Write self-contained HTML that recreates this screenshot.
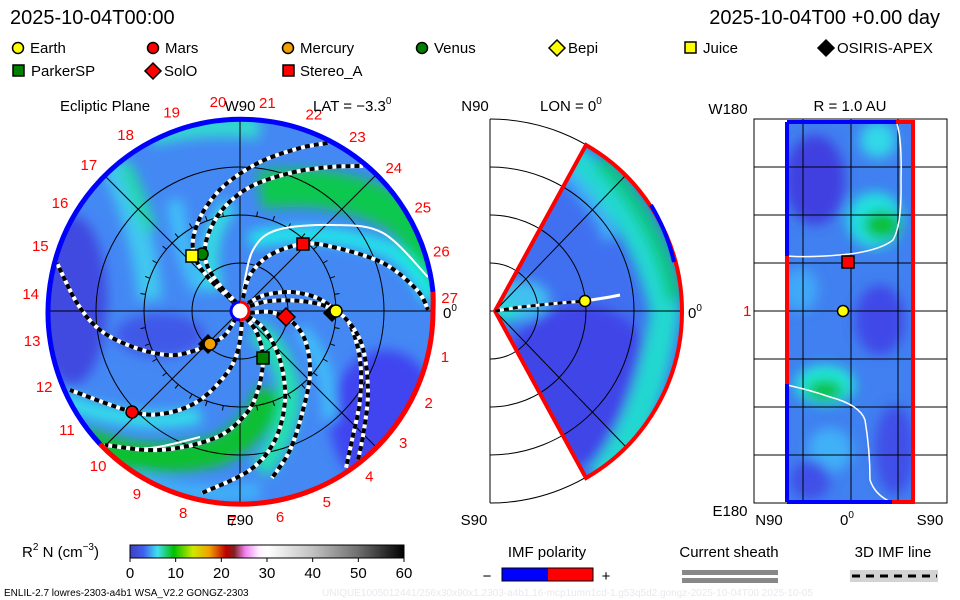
<!DOCTYPE html>
<html><head><meta charset="utf-8">
<style>
html,body{margin:0;padding:0;background:#fff;}
svg{display:block;font-family:"Liberation Sans",sans-serif;}
</style></head>
<body>
<svg id="root" width="960" height="600" viewBox="0 0 960 600" xmlns="http://www.w3.org/2000/svg">
<defs>
  <clipPath id="clipL"><circle cx="240" cy="311" r="193"/></clipPath>
  <clipPath id="clipM"><path d="M495,311 L586,145 A192,192 0 0 1 682,311 A192,192 0 0 1 586,478 Z"/></clipPath>
  <clipPath id="clipR"><rect x="785" y="122" width="130" height="380"/></clipPath>
  <filter id="blur6"><feGaussianBlur stdDeviation="6"/></filter>
  <linearGradient id="cbar" x1="0" x2="1" y1="0" y2="0">
    <stop offset="0" stop-color="#4040c0"/>
    <stop offset="0.05" stop-color="#4060f0"/>
    <stop offset="0.1" stop-color="#40e0f0"/>
    <stop offset="0.16" stop-color="#00c000"/>
    <stop offset="0.23" stop-color="#d0e800"/>
    <stop offset="0.29" stop-color="#f0a000"/>
    <stop offset="0.35" stop-color="#c00000"/>
    <stop offset="0.38" stop-color="#802020"/>
    <stop offset="0.42" stop-color="#f080f0"/>
    <stop offset="0.47" stop-color="#fff0ff"/>
    <stop offset="0.5" stop-color="#ffffff"/>
    <stop offset="0.67" stop-color="#c0c0c0"/>
    <stop offset="0.83" stop-color="#707070"/>
    <stop offset="1" stop-color="#000000"/>
  </linearGradient>
</defs>

<text x="10" y="24" font-size="20">2025-10-04T00:00</text>
<text x="940" y="24" font-size="20" text-anchor="end">2025-10-04T00 +0.00 day</text>

<g font-size="15">
  <g><circle cx="18" cy="48" r="5.5" fill="#ffff00" stroke="#000" stroke-width="1.5"/><text x="30" y="53">Earth</text></g>
  <g><circle cx="153" cy="48" r="5.5" fill="#ff0000" stroke="#000" stroke-width="1.5"/><text x="165" y="53">Mars</text></g>
  <g><circle cx="288" cy="48" r="5.5" fill="#f0a000" stroke="#000" stroke-width="1.5"/><text x="300" y="53">Mercury</text></g>
  <g><circle cx="422" cy="48" r="5.5" fill="#008000" stroke="#000" stroke-width="1.5"/><text x="434" y="53">Venus</text></g>
  <g><path d="M557,40 L565,48 L557,56 L549,48Z" fill="#ffff00" stroke="#000" stroke-width="1.5"/><text x="568" y="53">Bepi</text></g>
  <g><rect x="685" y="42" width="11" height="11" fill="#ffff00" stroke="#000" stroke-width="1.5"/><text x="703" y="53">Juice</text></g>
  <g><path d="M826,40 L834,48 L826,56 L818,48Z" fill="#000" stroke="#000" stroke-width="1.5"/><text x="837" y="53">OSIRIS-APEX</text></g>
  <g><rect x="13" y="65" width="11" height="11" fill="#008000" stroke="#000" stroke-width="1.5"/><text x="31" y="76">ParkerSP</text></g>
  <g><path d="M153,63 L161,71 L153,79 L145,71Z" fill="#ff0000" stroke="#000" stroke-width="1.5"/><text x="164" y="76">SolO</text></g>
  <g><rect x="283" y="65" width="11" height="11" fill="#ff0000" stroke="#000" stroke-width="1.5"/><text x="300" y="76">Stereo_A</text></g>
</g>

<!-- LEFT PANEL -->
<g id="leftPanel">
  <g clip-path="url(#clipL)">
    <circle cx="240" cy="311" r="193" fill="#4488f4"/>
    <g filter="url(#blur6)">
      <ellipse cx="72" cy="300" rx="35" ry="85" fill="#4048e0"/>
      <ellipse cx="385" cy="420" rx="55" ry="70" fill="#4044f0"/>
      <ellipse cx="160" cy="335" rx="45" ry="22" fill="#4058e8"/>
      <path d="M110,160 Q145,230 150,300" stroke="#40c8f0" stroke-width="24" fill="none"/>
      <path d="M125,165 Q140,200 150,230" stroke="#20d8a8" stroke-width="14" fill="none"/>
      <path d="M150,135 Q200,122 260,128" stroke="#30d8d0" stroke-width="22" fill="none"/>
      <path d="M175,200 Q180,250 200,290" stroke="#40c0f8" stroke-width="16" fill="none"/>
      <path d="M260,190 Q340,180 400,215 Q430,240 440,290" stroke="#10c850" stroke-width="38" fill="none"/>
      <path d="M250,240 Q320,225 390,250 Q420,270 430,300" stroke="#20e8e8" stroke-width="16" fill="none"/>
      <path d="M215,290 Q200,240 230,205" stroke="#30e0e0" stroke-width="16" fill="none"/>
      <path d="M80,440 Q150,470 220,450 Q260,430 270,390" stroke="#10c030" stroke-width="30" fill="none"/>
      <path d="M60,400 Q140,430 200,415" stroke="#30e0e8" stroke-width="16" fill="none"/>
      <path d="M255,330 Q285,350 290,400 Q285,440 260,470" stroke="#20e0b0" stroke-width="22" fill="none"/>
      <path d="M300,330 Q330,360 330,420" stroke="#40c0f8" stroke-width="14" fill="none"/>
      <path d="M130,480 Q200,500 260,490" stroke="#40b0f8" stroke-width="18" fill="none"/>
    </g>
  </g>
  <g stroke="#000" stroke-width="1" fill="none">
    <circle cx="240" cy="311" r="48"/>
    <circle cx="240" cy="311" r="96"/>
    <circle cx="240" cy="311" r="144"/>
    <line x1="47" y1="311" x2="433" y2="311"/>
    <line x1="240" y1="118" x2="240" y2="504"/>
    <line x1="104" y1="175" x2="376" y2="447"/>
    <line x1="104" y1="447" x2="376" y2="175"/>
  </g>
  <g id="ringTicks" stroke="#000" stroke-width="1"></g>
  <g id="leftSheath"></g>
  <g id="leftImf"></g>
  <path d="M433,311 A193,193 0 0 1 100,444" fill="none" stroke="#ff0000" stroke-width="5"/>
  <path d="M100,444 A193,193 0 1 1 433,292" fill="none" stroke="#0000ff" stroke-width="5"/>
  <path d="M433,292 A193,193 0 0 1 433,311" fill="none" stroke="#ff0000" stroke-width="5"/>
  <circle cx="240" cy="311" r="8" fill="#fff"/>
  <path d="M240,302 A9,9 0 0 1 240,320" fill="none" stroke="#ff0000" stroke-width="3"/>
  <path d="M240,320 A9,9 0 0 1 240,302" fill="none" stroke="#0000ff" stroke-width="3"/>
  <g stroke="#000" stroke-width="1.5">
    <path d="M332,305 L340,313 L332,321 L324,313Z" fill="#000"/>
    <circle cx="336" cy="311" r="6" fill="#ffff00"/>
    <circle cx="132" cy="412" r="6" fill="#ff0000"/>
    <path d="M208,335 L217,344 L208,353 L199,344Z" fill="#000"/>
    <circle cx="210" cy="344" r="6" fill="#f0a000"/>
    <circle cx="202" cy="254" r="6" fill="#008000"/>
    <rect x="186" y="250" width="12" height="12" fill="#ffff00"/>
    <rect x="257" y="352" width="12" height="12" fill="#008000"/>
    <path d="M286,308 L295,317 L286,326 L277,317Z" fill="#ff0000"/>
    <rect x="297" y="238" width="12" height="12" fill="#ff0000"/>
  </g>
  <g id="carrLabels" fill="#ff0000" font-size="15" text-anchor="middle"></g>
  <text x="60" y="111" font-size="15">Ecliptic Plane</text>
  <text x="240" y="111" font-size="15" text-anchor="middle">W90</text>
  <text x="313" y="111" font-size="15">LAT = −3.3<tspan font-size="10" dy="-7">0</tspan></text>
  <text x="240" y="525" font-size="15" text-anchor="middle">E90</text>
  <text x="443" y="318" font-size="15">0<tspan font-size="10" dy="-7">0</tspan></text>
</g>

<!-- MIDDLE PANEL -->
<g>
  <g clip-path="url(#clipM)">
    <rect x="490" y="140" width="200" height="345" fill="#4070f0"/>
    <g filter="url(#blur6)">
      <ellipse cx="580" cy="385" rx="80" ry="80" fill="#4044e8"/>
      <path d="M560,150 Q640,200 665,311 Q650,420 600,480" stroke="#20d8d0" stroke-width="30" fill="none"/>
      <path d="M600,160 Q660,220 675,300" stroke="#10c880" stroke-width="16" fill="none"/>
      <ellipse cx="520" cy="300" rx="30" ry="20" fill="#40c0f0"/>
      <ellipse cx="505" cy="312" rx="14" ry="10" fill="#20e0d0"/>
      <path d="M540,150 Q600,200 610,240" stroke="#40b0f8" stroke-width="14" fill="none"/>
    </g>
  </g>
  <g stroke="#000" stroke-width="1" fill="none">
    <line x1="490" y1="119" x2="490" y2="503"/>
    <path d="M490,263 A48,48 0 0 1 490,359"/>
    <path d="M490,215 A96,96 0 0 1 490,407"/>
    <path d="M490,167 A144,144 0 0 1 490,455"/>
    <path d="M490,119 A192,192 0 0 1 490,503"/>
    <line x1="490" y1="311" x2="682" y2="311"/>
    <line x1="495" y1="311" x2="626" y2="175"/>
    <line x1="495" y1="311" x2="626" y2="447"/>
  </g>
  <path d="M495,311 L586,145 A192,192 0 0 1 682,311 A192,192 0 0 1 586,478 Z" fill="none" stroke="#ff0000" stroke-width="4"/>
  <path d="M651,205 A192,192 0 0 1 674,262" fill="none" stroke="#0000ff" stroke-width="4"/>
  <path d="M495,311 L520,307 L560,303 L585,301 L610,297 L620,295" fill="none" stroke="#fff" stroke-width="3"/>
  <path d="M495,311 L520,307 L560,303 L585,301" fill="none" stroke="#000" stroke-width="3" stroke-dasharray="5,4"/>
  <circle cx="585" cy="301" r="5.5" fill="#ffff00" stroke="#000" stroke-width="1.5"/>
  <text x="475" y="111" font-size="15" text-anchor="middle">N90</text>
  <text x="540" y="111" font-size="15">LON = 0<tspan font-size="10" dy="-7">0</tspan></text>
  <text x="688" y="318" font-size="15">0<tspan font-size="10" dy="-7">0</tspan></text>
  <text x="474" y="525" font-size="15" text-anchor="middle">S90</text>
</g>

<!-- RIGHT PANEL -->
<g>
  <g clip-path="url(#clipR)">
    <rect x="785" y="122" width="130" height="380" fill="#4080f0"/>
    <g filter="url(#blur6)">
      <ellipse cx="815" cy="180" rx="30" ry="45" fill="#4040e0"/>
      <ellipse cx="878" cy="140" rx="18" ry="18" fill="#30d8e8"/>
      <ellipse cx="875" cy="220" rx="28" ry="28" fill="#20e0e0"/>
      <ellipse cx="882" cy="225" rx="18" ry="14" fill="#10c030"/>
      <ellipse cx="800" cy="290" rx="18" ry="22" fill="#40a8f8"/>
      <ellipse cx="880" cy="320" rx="25" ry="35" fill="#4048e8"/>
      <ellipse cx="825" cy="385" rx="30" ry="20" fill="#20e8d8"/>
      <ellipse cx="825" cy="390" rx="18" ry="10" fill="#10c030"/>
      <ellipse cx="830" cy="450" rx="22" ry="22" fill="#40b0f8"/>
      <ellipse cx="895" cy="450" rx="20" ry="45" fill="#4050e8"/>
      <ellipse cx="810" cy="480" rx="20" ry="20" fill="#4050e8"/>
    </g>
  </g>
  <g stroke="#000" stroke-width="1" fill="none">
    <rect x="754" y="119" width="193" height="384"/>
    <line x1="803" y1="119" x2="803" y2="503"/>
    <line x1="851" y1="119" x2="851" y2="503"/>
    <line x1="898" y1="119" x2="898" y2="503"/>
    <line x1="754" y1="167" x2="947" y2="167"/>
    <line x1="754" y1="215" x2="947" y2="215"/>
    <line x1="754" y1="263" x2="947" y2="263"/>
    <line x1="754" y1="311" x2="947" y2="311"/>
    <line x1="754" y1="359" x2="947" y2="359"/>
    <line x1="754" y1="407" x2="947" y2="407"/>
    <line x1="754" y1="455" x2="947" y2="455"/>
  </g>
  <path d="M897,124 Q902,140 901,180 Q902,225 893,240 Q880,250 850,254 Q810,258 787,256" fill="none" stroke="#fff" stroke-width="1.5"/>
  <path d="M787,385 Q810,390 830,397 Q860,405 865,420 Q870,450 870,480 Q875,495 891,502" fill="none" stroke="#fff" stroke-width="1.5"/>
  <g stroke-width="4" fill="none">
    <line x1="787" y1="122" x2="896" y2="122" stroke="#0000ff"/>
    <line x1="896" y1="122" x2="915" y2="122" stroke="#ff0000"/>
    <line x1="787" y1="502" x2="892" y2="502" stroke="#0000ff"/>
    <line x1="892" y1="502" x2="915" y2="502" stroke="#ff0000"/>
    <line x1="787" y1="122" x2="787" y2="256" stroke="#0000ff"/>
    <line x1="787" y1="256" x2="787" y2="384" stroke="#ff0000"/>
    <line x1="787" y1="384" x2="787" y2="502" stroke="#0000ff"/>
    <line x1="913" y1="122" x2="913" y2="502" stroke="#ff0000"/>
  </g>
  <rect x="842" y="256" width="12" height="12" fill="#ff0000" stroke="#000" stroke-width="1.5"/>
  <circle cx="843" cy="311" r="5.5" fill="#ffff00" stroke="#000" stroke-width="1.5"/>
  <text x="728" y="114" font-size="15" text-anchor="middle">W180</text>
  <text x="850" y="111" font-size="15" text-anchor="middle">R = 1.0 AU</text>
  <text x="730" y="516" font-size="15" text-anchor="middle">E180</text>
  <text x="769" y="525" font-size="15" text-anchor="middle">N90</text>
  <text x="847" y="525" font-size="15" text-anchor="middle">0<tspan font-size="10" dy="-7">0</tspan></text>
  <text x="930" y="525" font-size="15" text-anchor="middle">S90</text>
  <text x="743" y="316" font-size="15" fill="#ff0000">1</text>
</g>

<!-- BOTTOM LEGENDS -->
<g>
  <text x="22" y="557" font-size="15">R<tspan font-size="10" dy="-7">2</tspan><tspan dy="7"> N (cm</tspan><tspan font-size="10" dy="-7">−3</tspan><tspan dy="7">)</tspan></text>
  <rect x="130" y="545" width="274" height="13" fill="url(#cbar)" stroke="#000" stroke-width="1"/>
  <g id="cbTicks" font-size="15" text-anchor="middle"></g>
</g>
<g>
  <text x="547" y="557" font-size="15" text-anchor="middle">IMF polarity</text>
  <text x="487" y="581" font-size="15" text-anchor="middle">−</text>
  <rect x="502" y="568" width="46" height="13" fill="#0000ff"/>
  <rect x="548" y="568" width="45" height="13" fill="#ff0000"/>
  <rect x="502" y="568" width="91" height="13" fill="none" stroke="#000" stroke-width="1"/>
  <text x="606" y="581" font-size="15" text-anchor="middle">+</text>
</g>
<g>
  <text x="729" y="557" font-size="15" text-anchor="middle">Current sheath</text>
  <rect x="682" y="570" width="96" height="5" fill="#888"/>
  <rect x="682" y="578" width="96" height="5" fill="#888"/>
</g>
<g>
  <text x="893" y="557" font-size="15" text-anchor="middle">3D IMF line</text>
  <rect x="850" y="570" width="88" height="12" fill="#d3d3d3"/>
  <line x1="852" y1="576" x2="937" y2="576" stroke="#000" stroke-width="3" stroke-dasharray="8,6"/>
</g>
<text x="4" y="596" font-size="10">ENLIL-2.7 lowres-2303-a4b1 WSA_V2.2 GONGZ-2303</text>
<text x="322" y="596" font-size="10" fill="#e8e8f0">UNIQUE1005012441/256x30x90x1.2303-a4b1.16-mcp1umn1cd-1.g53q5d2.gongz-2025-10-04T00   2025-10-05</text>
</svg>

<script>
const NS = "http://www.w3.org/2000/svg";
const cbTickValues = [0, 10, 20, 30, 40, 50, 60];
const carrLabels = ["1","2","3","4","5","6","7","8","9","10","11","12","13","14","15","16","17","18","19","20","21","22","23","24","25","26","27"];
const carrAngles = [-12.6, -26, -39, -52, -65.6, -79, -92, -105.7, -119.4, -132.5, -145.5, -158.8, -171.8, 175.3, 162, 149, 136, 123, 109, 96, 82.5, 69.4, 56, 42.9, 29.5, 16.5, 3.5];
const imfLines = [
  [[243,298],[250,275],[270,255],[303,244],[333,247],[383,263],[417,290],[428,310]],
  [[236,303],[215,285],[197,262],[193,240],[203,212],[225,185],[260,162],[300,148],[328,143]],
  [[237,303],[218,283],[206,262],[207,238],[222,210],[250,187],[290,173],[330,167],[363,166]],
  [[248,303],[265,295],[290,292],[315,297],[333,308],[350,325],[360,360],[360,400],[352,440],[346,468]],
  [[250,306],[270,301],[300,301],[325,306],[345,318],[362,345],[368,390],[364,430],[358,460]],
  [[236,318],[225,335],[210,344],[190,352],[167,355],[133,347],[100,330],[77,303],[57,263]],
  [[242,322],[238,350],[227,373],[200,400],[167,413],[133,412],[70,390]],
  [[246,318],[257,333],[263,358],[258,390],[245,415],[215,438],[160,450],[105,445]],
  [[248,316],[265,330],[280,360],[285,400],[275,440],[250,470],[202,493]],
  [[250,313],[270,312],[290,320],[305,340],[310,373],[303,410],[290,450],[272,478]]
];
const sheathLines = [
  [[243,290],[253,250],[277,230],[333,225],[383,233],[428,277]],
  [[100,445],[150,448],[200,437]]
];

function smoothPath(pts){
  let d = "M" + pts[0][0] + "," + pts[0][1];
  for (let i = 0; i < pts.length - 1; i++){
    const p0 = pts[i-1] || pts[i], p1 = pts[i], p2 = pts[i+1], p3 = pts[i+2] || p2;
    const c1 = [p1[0] + (p2[0]-p0[0])/6, p1[1] + (p2[1]-p0[1])/6];
    const c2 = [p2[0] - (p3[0]-p1[0])/6, p2[1] - (p3[1]-p1[1])/6];
    d += " C" + c1.join(",") + " " + c2.join(",") + " " + p2.join(",");
  }
  return d;
}

const sheathG = document.getElementById("leftSheath");
sheathLines.forEach(pts => {
  const p = document.createElementNS(NS, "path");
  p.setAttribute("d", smoothPath(pts));
  p.setAttribute("fill", "none");
  p.setAttribute("stroke", "#fff");
  p.setAttribute("stroke-width", "2");
  
  
  sheathG.appendChild(p);
});

const imfG = document.getElementById("leftImf");
imfLines.forEach(pts => {
  const d = smoothPath(pts);
  const w = document.createElementNS(NS, "path");
  w.setAttribute("d", d);
  w.setAttribute("fill", "none");
  w.setAttribute("stroke", "#fff");
  w.setAttribute("stroke-width", "4");
  
  
  imfG.appendChild(w);
  const b = document.createElementNS(NS, "path");
  b.setAttribute("d", d);
  b.setAttribute("fill", "none");
  b.setAttribute("stroke", "#000");
  b.setAttribute("stroke-width", "4");
  b.setAttribute("stroke-dasharray", "5,4");
  
  
  imfG.appendChild(b);
});

const tickG = document.getElementById("ringTicks");
for (let a = 0; a < 360; a += 10){
  const r = a * Math.PI / 180;
  const l = document.createElementNS(NS, "line");
  l.setAttribute("x1", 240 + 96*Math.cos(r));
  l.setAttribute("y1", 311 - 96*Math.sin(r));
  l.setAttribute("x2", 240 + 101*Math.cos(r));
  l.setAttribute("y2", 311 - 101*Math.sin(r));
  
  
  tickG.appendChild(l);
}

const carrG = document.getElementById("carrLabels");
carrLabels.forEach((lab, i) => {
  const r = carrAngles[i] * Math.PI / 180;
  const t = document.createElementNS(NS, "text");
  t.setAttribute("x", (240 + 210*Math.cos(r)).toFixed(1));
  t.setAttribute("y", (311 - 210*Math.sin(r) + 5).toFixed(1));
  t.textContent = lab;
  
  
  carrG.appendChild(t);
});

const cbG = document.getElementById("cbTicks");
const cbX = v => 130 + (v - 0) / 60 * 274;
cbTickValues.forEach(v => {
  const l = document.createElementNS(NS, "line");
  l.setAttribute("x1", cbX(v)); l.setAttribute("x2", cbX(v));
  l.setAttribute("y1", 558); l.setAttribute("y2", 562);
  l.setAttribute("stroke", "#000");
  
  
  cbG.appendChild(l);
  const t = document.createElementNS(NS, "text");
  t.setAttribute("x", cbX(v)); t.setAttribute("y", 578);
  t.textContent = v;
  
  
  cbG.appendChild(t);
});
</script>
</body></html>
